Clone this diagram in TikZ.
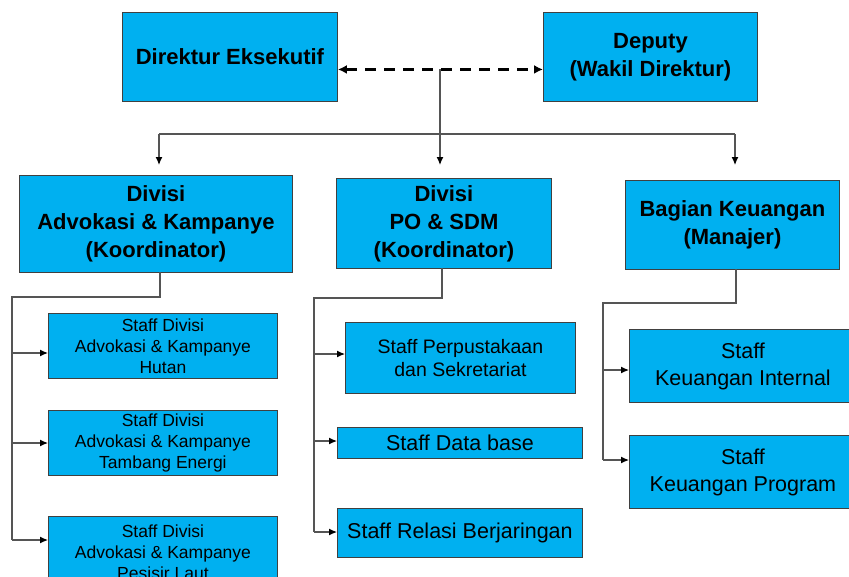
\documentclass[tikz,border=0pt]{standalone}
\usepackage{fontspec}
\setmainfont{Liberation Sans}
\usetikzlibrary{arrows.meta}
\definecolor{cyanfill}{RGB}{0,176,240}
\definecolor{boxline}{RGB}{64,64,64}
\definecolor{connline}{RGB}{85,85,85}
\tikzset{
  box/.style={draw=boxline, fill=cyanfill, line width=0.9pt, align=center, inner sep=0pt, anchor=north west},
  head/.style={box, font={\fontsize{22}{28}\selectfont\bfseries}},
  staffsm/.style={box, font={\fontsize{17.5}{21}\selectfont}},
  staffmd/.style={box, font={\fontsize{19.5}{23}\selectfont}},
  stafflg/.style={box, font={\fontsize{21.5}{27}\selectfont}},
  conn/.style={draw=connline, line width=1.2pt},
  arr/.style={conn, -{Latex[length=8pt,width=7pt,color=black]}},
  dasharr/.style={draw=black, line width=3pt, dash pattern=on 11pt off 8pt,
    {Latex[length=9pt,width=9pt]}-{Latex[length=9pt,width=9pt]}}
}
\begin{document}
\begin{tikzpicture}[x=1pt,y=-1pt]
\useasboundingbox (0,0) rectangle (849,576);
\clip (0,0) rectangle (849,576);
\fill[white] (0,0) rectangle (849,576);

% top level
\node[head, minimum width=215pt, minimum height=89pt] (dir) at (122,12) {Direktur Eksekutif};
\node[head, minimum width=214pt, minimum height=89pt] (dep) at (543,12) {Deputy\\(Wakil Direktur)};

% divisions
\node[head, minimum width=273pt, minimum height=97pt] (div1) at (19,175) {Divisi\\Advokasi \& Kampanye\\(Koordinator)};
\node[head, minimum width=215pt, minimum height=90pt] (div2) at (336,178) {Divisi\\PO \& SDM\\(Koordinator)};
\node[head, minimum width=214pt, minimum height=89pt] (div3) at (625,180) {Bagian Keuangan\\(Manajer)};

% staff of division 1
\node[staffsm, minimum width=229pt, minimum height=65pt] (s11) at (48,313) {Staff Divisi\\Advokasi \& Kampanye\\Hutan};
\node[staffsm, minimum width=229pt, minimum height=65pt] (s12) at (48,410) {Staff Divisi\\Advokasi \& Kampanye\\Tambang Energi};
\node[staffsm, minimum width=229pt, minimum height=72pt] (s13) at (48,516) {Staff Divisi\\Advokasi \& Kampanye\\Pesisir Laut};

% staff of division 2
\node[staffmd, minimum width=230pt, minimum height=71pt] (s21) at (345,322) {Staff Perpustakaan\\dan Sekretariat};
\node[stafflg, minimum width=245pt, minimum height=31pt] (s22) at (337,427) {Staff Data base};
\node[stafflg, minimum width=245pt, minimum height=49pt] (s23) at (337,508) {Staff Relasi Berjaringan};

% staff of finance
\node[stafflg, minimum width=227pt, minimum height=73pt] (s31) at (629,329) {Staff\\Keuangan Internal};
\node[stafflg, minimum width=227pt, minimum height=73pt] (s32) at (629,435) {Staff\\Keuangan Program};

% dashed link between director and deputy
\draw[dasharr] ([yshift=-12.5pt]dir.east) -- ([yshift=-12.5pt]dep.west);

% distribution to divisions
\coordinate (j) at (440,69);
\coordinate (bl) at (159,134);
\coordinate (br) at (735,134);
\draw[conn] (bl) -- (br);
\draw[arr] (j) -- (440,165);
\draw[arr] (bl) -- (159,165);
\draw[arr] (br) -- (735,165);

% division 1 tree
\coordinate (d1a) at (160,297);
\coordinate (d1b) at (12,297);
\coordinate (d1c) at (12,540);
\draw[conn] (160,272) -- (d1a) -- (d1b) -- (d1c);
\coordinate (a11) at (12,353);
\coordinate (a12) at (12,443);
\draw[arr] (a11) -- (a11 -| s11.west);
\draw[arr] (a12) -- (a12 -| s12.west);
\draw[arr] (d1c) -- (d1c -| s13.west);

% division 2 tree
\coordinate (d2a) at (442,298);
\coordinate (d2b) at (314,298);
\coordinate (d2c) at (314,532);
\draw[conn] (442,268) -- (d2a) -- (d2b) -- (d2c);
\coordinate (a21) at (314,354);
\coordinate (a22) at (314,441);
\draw[arr] (a21) -- (a21 -| s21.west);
\draw[arr] (a22) -- (a22 -| s22.west);
\draw[arr] (d2c) -- (d2c -| s23.west);

% finance tree
\coordinate (d3a) at (736,303);
\coordinate (d3b) at (603,303);
\coordinate (d3c) at (603,460);
\draw[conn] (736,269) -- (d3a) -- (d3b) -- (d3c);
\coordinate (a31) at (603,370);
\draw[arr] (a31) -- (a31 -| s31.west);
\draw[arr] (d3c) -- (d3c -| s32.west);
\end{tikzpicture}
\end{document}
